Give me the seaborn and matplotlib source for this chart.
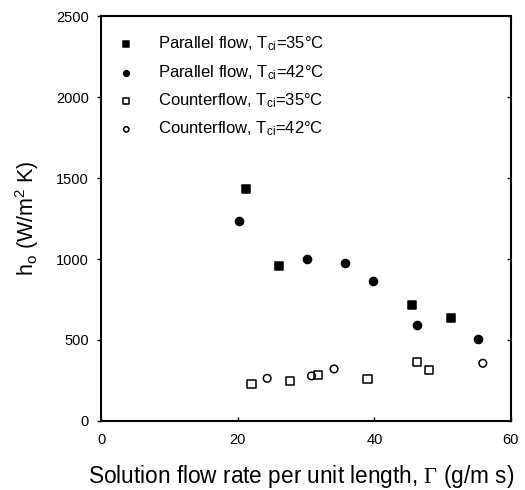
import matplotlib
matplotlib.use("Agg")
import matplotlib.pyplot as plt
import matplotlib.lines as mlines
import seaborn as sns
import pandas as pd

# Data
p35_x = [21.2, 26.0, 45.5, 51.2]
p35_y = [1435, 957, 718, 636]
p42_x = [20.2, 30.1, 35.7, 39.8, 46.3, 55.2]
p42_y = [1236, 1002, 977, 866, 593, 504]
c35_x = [22.0, 27.7, 31.8, 39.0, 46.3, 48.0]
c35_y = [226, 247, 286, 259, 366, 313]
c42_x = [24.3, 30.8, 34.1, 55.9]
c42_y = [263, 278, 321, 356]

labels = [r"Parallel flow, T$\mathregular{_{ci}}$=35°C",
          r"Parallel flow, T$\mathregular{_{ci}}$=42°C",
          r"Counterflow, T$\mathregular{_{ci}}$=35°C",
          r"Counterflow, T$\mathregular{_{ci}}$=42°C"]

x_ticks = [0, 20, 40, 60]
y_ticks = [0, 500, 1000, 1500, 2000, 2500]

sns.set_theme(style="white")
plt.rcParams["font.family"] = ["Liberation Sans", "DejaVu Sans"]
plt.rcParams["mathtext.fontset"] = "custom"
plt.rcParams["mathtext.rm"] = "Liberation Serif"
plt.rcParams["mathtext.it"] = "Liberation Sans:italic"

fig = plt.figure(figsize=(5.25, 4.9), dpi=100)
ax = fig.add_axes([0.193, 0.141, 0.78, 0.826])

series = [
    (p35_x, p35_y, labels[0], "s", "black", 38),
    (p42_x, p42_y, labels[1], "o", "black", 34),
    (c35_x, c35_y, labels[2], "s", "none", 34),
    (c42_x, c42_y, labels[3], "o", "none", 30),
]
for xs, ys, lab, mk, fc, s in series:
    df = pd.DataFrame({"x": xs, "y": ys})
    sns.scatterplot(data=df, x="x", y="y", ax=ax, marker=mk, s=s,
                    facecolor=fc, edgecolor="black", linewidth=1.1, label=lab)

ax.set_xlim(0, 60)
ax.set_ylim(0, 2500)
ax.set_xticks(x_ticks)
ax.set_yticks(y_ticks)
ax.tick_params(axis="both", labelsize=10.5, colors="black", length=3, width=1)
ax.tick_params(axis="y", direction="out", left=True, right=True, pad=6)
ax.tick_params(axis="x", direction="in", bottom=True, pad=9)
# make right-side ticks point inward
for tk in ax.yaxis.get_major_ticks():
    tk.tick2line.set_marker(mlines.TICKLEFT)

for name, sp in ax.spines.items():
    sp.set_visible(True)
    sp.set_color("black")
    sp.set_linewidth(1.5)
    sp.set_zorder(5)

ax.set_xlabel(r"Solution flow rate per unit length, $\mathrm{\Gamma}$ (g/m s)",
              fontsize=16.3, color="black", labelpad=11)
ax.xaxis.label.set_x(0.488)
ax.set_ylabel(r"h$\mathregular{_o}$ (W/m$\mathregular{^2}$ K)",
              fontsize=15.5, color="black", labelpad=11)

leg = ax.legend(loc="upper left", frameon=False, fontsize=12,
                markerscale=0.7, handlelength=2.0, handletextpad=0.88,
                labelspacing=0.58, borderpad=0.4, borderaxespad=0.1,
                bbox_to_anchor=(0.0, 0.975))
for t in leg.get_texts():
    t.set_color("black")

fig.savefig("out.png", dpi=100)
